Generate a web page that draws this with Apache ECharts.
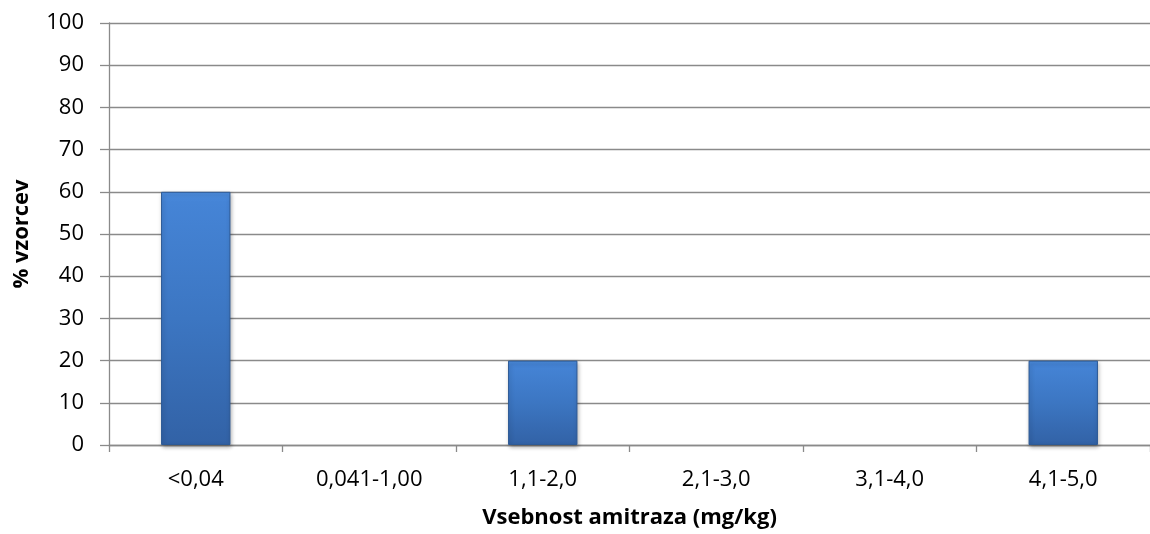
<!DOCTYPE html>
<html><head><meta charset="utf-8">
<script src="https://cdn.jsdelivr.net/npm/echarts@6/dist/echarts.min.js"></script>
<style>html,body{margin:0;padding:0;background:#fff}#c{width:1150px;height:534px}</style>
</head><body><div id="c"></div>
<script>
const categories = ['<0,04', '0,041-1,00', '1,1-2,0', '2,1-3,0', '3,1-4,0', '4,1-5,0'];
const values = [60, 0, 20, 0, 0, 20];
const yTicks = { min: 0, max: 100, interval: 10 };

const chart = echarts.init(document.getElementById('c'));
const font = 'Open Sans, Liberation Sans, sans-serif';
const gray = '#8a8a8a';
chart.setOption({
  animation: false,
  grid: { left: 109, right: -10, top: 23, bottom: 88, containLabel: false },
  xAxis: {
    type: 'category', data: categories,
    name: 'Vsebnost amitraza (mg/kg)', nameLocation: 'middle', nameGap: 62,
    nameTextStyle: { fontFamily: font, fontWeight: 'bold', fontSize: 22, color: '#000' },
    axisLine: { lineStyle: { color: gray, width: 1.3 } },
    axisTick: { show: true, length: 7, lineStyle: { color: gray, width: 1.3 } },
    axisLabel: { fontFamily: font, fontSize: 22, color: '#000', margin: 24 }
  },
  yAxis: {
    type: 'value', min: yTicks.min, max: yTicks.max, interval: yTicks.interval,
    name: '% vzorcev', nameLocation: 'middle', nameGap: 76, nameRotate: 90,
    nameTextStyle: { fontFamily: font, fontWeight: 'bold', fontSize: 22, color: '#000' },
    axisLine: { show: true, lineStyle: { color: gray, width: 1.3 } },
    axisTick: { show: true, length: 9, lineStyle: { color: gray, width: 1.3 } },
    axisLabel: { fontFamily: font, fontSize: 22, color: '#000', margin: 25 },
    splitLine: { lineStyle: { color: gray, width: 1.3 } }
  },
  series: [{
    type: 'bar', data: values.map(v => v === 0 ? null : v), barWidth: '40%',
    itemStyle: {
      color: new echarts.graphic.LinearGradient(0, 0, 0, 1, [
        { offset: 0, color: '#4d8ee0' },
        { offset: 0.04, color: '#4584d6' },
        { offset: 0.5, color: '#3c76c2' },
        { offset: 1, color: '#3262a6' }
      ]),
      borderColor: '#2d5a96', borderWidth: 1,
      shadowColor: 'rgba(0,0,0,0.3)', shadowBlur: 4, shadowOffsetX: 1, shadowOffsetY: 2
    }
  }]
});
</script></body></html>
